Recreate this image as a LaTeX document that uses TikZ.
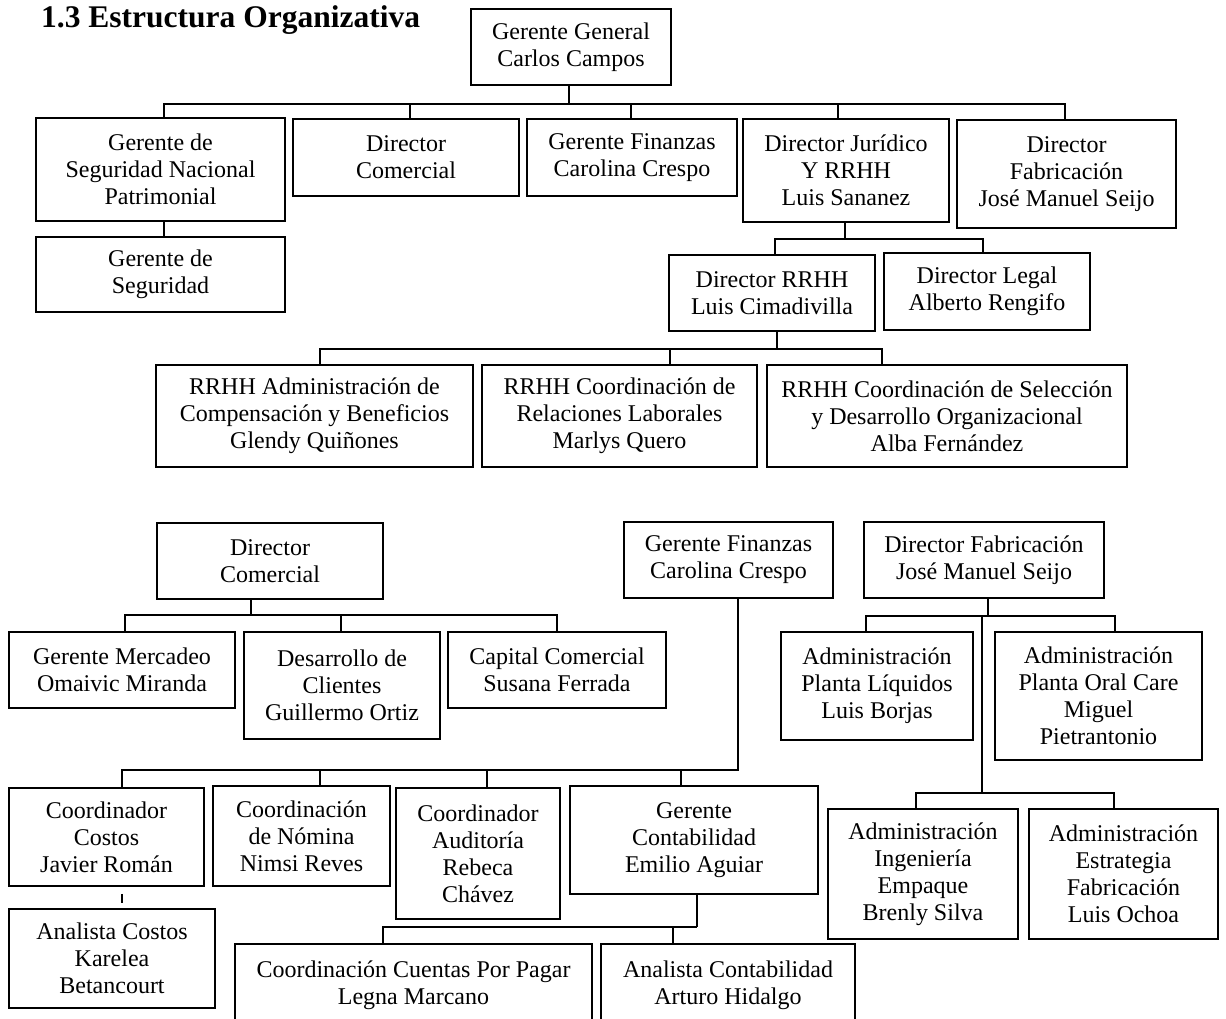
\documentclass[tikz,border=0pt]{standalone}
\usepackage{fontspec}
\setmainfont{Liberation Serif}
\tikzset{
  obox/.style={draw, line width=1.6pt, inner sep=1pt, align=center,
    font=\fontsize{24}{27}\selectfont},
  conn/.style={line width=1.6pt},
}
\newcommand\orgbox[6]{\node[obox,minimum width={(#3)-(#2)},minimum height={(#5)-(#4)}] (#1) at ({((#2)+(#3))/2},{-((#4)+(#5))/2}) {#6};}
\newcommand\dropto[3]{\draw[conn] ([xshift=#2pt]#1.north) -- ([xshift=#2pt]#1.north |- #3);}
\begin{document}
\begin{tikzpicture}[x=1pt,y=1pt]
\path[use as bounding box, clip] (0,0) rectangle (1226,-1019);
\fill[white] (0,0) rectangle (1226,-1019);

\node[anchor=base west, inner sep=0, font=\bfseries\fontsize{31.5}{36}\selectfont] (title) at (41,-28) {1.3 Estructura Organizativa};

% ---------- top chart ----------
\orgbox{gg}{471}{671}{9}{85}{Gerente General\\Carlos Campos}
\orgbox{gsnp}{36}{285}{118}{221}{Gerente de\\Seguridad Nacional\\Patrimonial}
\orgbox{dircom}{293}{519}{119}{196}{Director\\Comercial}
\orgbox{gf}{527}{737}{119}{196}{Gerente Finanzas\\Carolina Crespo}
\orgbox{dirjur}{743}{949}{119}{222}{Director Jurídico\\Y RRHH\\Luis Sananez}
\orgbox{dirfab}{957}{1176}{120}{228}{Director\\Fabricación\\José Manuel Seijo}
\orgbox{gds}{36}{285}{237}{312}{Gerente de\\Seguridad}
\orgbox{dirrrhh}{669}{875}{255}{331}{Director RRHH\\Luis Cimadivilla}
\orgbox{dirlegal}{884}{1090}{253}{330}{Director Legal\\Alberto Rengifo}
\orgbox{rrhha}{156}{473}{365}{467}{RRHH Administración de\\Compensación y Beneficios\\Glendy Quiñones}
\orgbox{rrhhb}{482}{757}{365}{467}{RRHH Coordinación de\\Relaciones Laborales\\Marlys Quero}
\orgbox{rrhhc}{767}{1127}{365}{467}{RRHH Coordinación de Selección\\y Desarrollo Organizacional\\Alba Fernández}

\coordinate (b1) at (0,-104);
\coordinate (b2) at (0,-239);
\coordinate (b3) at (0,-349);

\draw[conn] ([xshift=-2pt]gg.south) -- ([xshift=-2pt]gg.south |- b1);
\draw[conn] ([xshift=3.5pt]gsnp.north) -- ([xshift=3.5pt]gsnp.north |- b1) -- ([xshift=-1.5pt]dirfab.north |- b1) -- ([xshift=-1.5pt]dirfab.north);
\dropto{dircom}{4}{b1}
\dropto{gf}{-1}{b1}
\dropto{dirjur}{-8}{b1}
\draw[conn] ([xshift=3.5pt]gsnp.south) -- ([xshift=3.5pt]gsnp.south |- gds.north);

\draw[conn] ([xshift=-1pt]dirjur.south) -- ([xshift=-1pt]dirjur.south |- b2);
\draw[conn] ([xshift=3pt]dirrrhh.north) -- ([xshift=3pt]dirrrhh.north |- b2) -- ([xshift=-4pt]dirlegal.north |- b2) -- ([xshift=-4pt]dirlegal.north);

\draw[conn] ([xshift=5pt]dirrrhh.south) -- ([xshift=5pt]dirrrhh.south |- b3);
\draw[conn] ([xshift=5.5pt]rrhha.north) -- ([xshift=5.5pt]rrhha.north |- b3) -- ([xshift=-65pt]rrhhc.north |- b3) -- ([xshift=-65pt]rrhhc.north);
\dropto{rrhhb}{50.5}{b3}

% ---------- Director Comercial ----------
\orgbox{dc2}{157}{383}{523}{599}{Director\\Comercial}
\orgbox{gm}{9}{235}{632}{708}{Gerente Mercadeo\\Omaivic Miranda}
\orgbox{dcli}{244}{440}{632}{739}{Desarrollo de\\Clientes\\Guillermo Ortiz}
\orgbox{capc}{448}{666}{632}{708}{Capital Comercial\\Susana Ferrada}
\coordinate (b4) at (0,-615);
\draw[conn] ([xshift=-19pt]dc2.south) -- ([xshift=-19pt]dc2.south |- b4);
\draw[conn] ([xshift=3pt]gm.north) -- ([xshift=3pt]gm.north |- b4) -- (capc.north |- b4) -- (capc.north);
\dropto{dcli}{-1}{b4}

% ---------- Gerente Finanzas ----------
\orgbox{gf2}{624}{833}{522}{598}{Gerente Finanzas\\Carolina Crespo}
\orgbox{cc}{9}{204}{788}{886}{Coordinador\\Costos\\Javier Román}
\orgbox{cn}{213}{390}{786}{886}{Coordinación\\de Nómina\\Nimsi Reves}
\orgbox{ca}{396}{560}{788}{919}{Coordinador\\Auditoría\\Rebeca\\Chávez}
\orgbox{gc}{570}{818}{786}{894}{Gerente\\Contabilidad\\Emilio Aguiar}
\orgbox{ac}{9}{215}{909}{1008}{Analista Costos\\Karelea\\Betancourt}
\orgbox{cpp}{235}{592}{944}{1027}{Coordinación Cuentas Por Pagar\\Legna Marcano}
\orgbox{acont}{601}{855}{944}{1027}{Analista Contabilidad\\Arturo Hidalgo}
\coordinate (b5) at (0,-770);
\coordinate (b6) at (0,-927);
\draw[conn] ([xshift=9.5pt]gf2.south) -- ([xshift=9.5pt]gf2.south |- b5) -- ([xshift=15.5pt]cc.north |- b5) -- ([xshift=15.5pt]cc.north);
\dropto{cn}{18.5}{b5}
\dropto{ca}{9}{b5}
\dropto{gc}{-13}{b5}
\draw[conn, shorten <=7pt, shorten >=5pt] ([xshift=15.5pt]cc.south) -- ([xshift=15.5pt]cc.south |- ac.north);
\draw[conn] ([xshift=3pt]gc.south) -- ([xshift=3pt]gc.south |- b6);
\draw[conn] ([xshift=-30.5pt]cpp.north) -- ([xshift=-30.5pt]cpp.north |- b6) -- ([xshift=3pt]gc.south |- b6);
\dropto{acont}{-55}{b6}

% ---------- Director Fabricacion ----------
\orgbox{df2}{864}{1104}{522}{598}{Director Fabricación\\José Manuel Seijo}
\orgbox{apl}{781}{973}{632}{740}{Administración\\Planta Líquidos\\Luis Borjas}
\orgbox{apoc}{995}{1202}{632}{760}{Administración\\Planta Oral Care\\Miguel\\Pietrantonio}
\orgbox{aing}{828}{1018}{809}{939}{Administración\\Ingeniería\\Empaque\\Brenly Silva}
\orgbox{aest}{1029}{1218}{809}{939}{Administración\\Estrategia\\Fabricación\\Luis Ochoa}
\coordinate (b7) at (0,-616);
\coordinate (b8) at (0,-793);
\draw[conn] ([xshift=4pt]df2.south) -- ([xshift=4pt]df2.south |- b7);
\draw[conn] ([xshift=-11pt]apl.north) -- ([xshift=-11pt]apl.north |- b7) -- ([xshift=16.5pt]apoc.north |- b7) -- ([xshift=16.5pt]apoc.north);
\draw[conn] ([xshift=-2pt]df2.south |- b7) -- ([xshift=-2pt]df2.south |- b8);
\draw[conn] ([xshift=-7pt]aing.north) -- ([xshift=-7pt]aing.north |- b8) -- ([xshift=-9.5pt]aest.north |- b8) -- ([xshift=-9.5pt]aest.north);
\end{tikzpicture}
\end{document}
